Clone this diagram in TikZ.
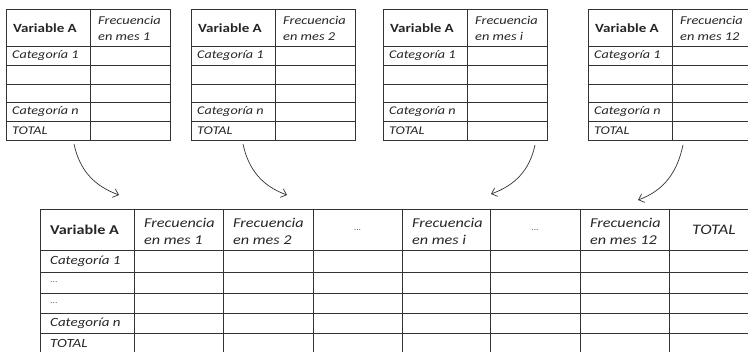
\documentclass[tikz,border=0pt]{standalone}
\usepackage{fontspec}
\setmainfont{Carlito}[FakeStretch=1.2]
\usetikzlibrary{positioning, arrows.meta}

\tikzset{
  grid/.style={draw=black!80, line width=0.9pt},
  hd/.style={font=\fontsize{12.5}{14}\selectfont\bfseries, text=black!85, inner sep=0pt},
  fq/.style={font=\fontsize{12}{16}\selectfont\itshape, text=black!85, align=left, inner sep=0pt},
  cl/.style={font=\fontsize{11.8}{12}\selectfont\itshape, text=black!85, inner sep=0pt},
  bigcl/.style={font=\fontsize{12.5}{13}\selectfont\itshape, text=black!85, inner sep=0pt},
  dots/.style={font=\fontsize{8}{10}\selectfont, text=black!70, inner sep=0pt},
  flow/.style={draw=black!80, line width=0.7pt, -{Straight Barb[length=5pt, width=9pt]}}
}

\begin{document}
\begin{tikzpicture}[x=1pt, y=-1pt]
\useasboundingbox (0,0) rectangle (748,352);
\clip (0,0) rectangle (748,352);

% the four monthly tables
\foreach \x/\m/\n in {6/1/a, 191/2/b, 383/i/c, 588/12/d} {
  \draw[grid] (\x,9) rectangle ++(164,131);
  \draw[grid] (\x+84,9) -- ++(0,131);
  \foreach \y in {46,65,84,102,121}
    \draw[grid] (\x,\y) -- ++(164,0);
  \node[hd, anchor=west] (var\n) at (\x+7,28) {Variable A};
  \node[fq, anchor=west] (frec\n) at (\x+92,28) {Frecuencia\\en mes \m};
  \node[cl, anchor=west] (cat\n) at (\x+6,55.5) {Categoría 1};
  \node[cl, anchor=west] (catn\n) at (\x+6,111.5) {Categoría n};
  \node[cl, anchor=west] (tot\n) at (\x+6,130.5) {TOTAL};
}

% the joined table
\draw[grid] (40,209) rectangle (760,356);
\foreach \x in {134,223,313,402,490,580,669}
  \draw[grid] (\x,209) -- (\x,356);
\foreach \y in {250,272,293,313,333}
  \draw[grid] (40,\y) -- (760,\y);

\node[hd, anchor=west, font=\fontsize{13.5}{14}\selectfont\bfseries] (varall) at (50,230) {Variable A};
\node[fq, anchor=west, font=\fontsize{13.5}{17}\selectfont\itshape] (fall1) at (144,231) {Frecuencia\\en mes 1};
\node[fq, anchor=west, font=\fontsize{13.5}{17}\selectfont\itshape] (fall2) at (233,231) {Frecuencia\\en mes 2};
\node[dots] (hdots1) at (357.5,230) {...};
\node[fq, anchor=west, font=\fontsize{13.5}{17}\selectfont\itshape] (falli) at (412,231) {Frecuencia\\en mes i};
\node[dots] (hdots2) at (535,230) {...};
\node[fq, anchor=west, font=\fontsize{13.5}{17}\selectfont\itshape] (fall12) at (590,231) {Frecuencia\\en mes 12};
\node[bigcl, font=\fontsize{14.5}{15}\selectfont\itshape] (totall) at (714,230) {TOTAL};

\node[bigcl, anchor=west] (catall) at (50,261) {Categoría 1};
\node[dots, anchor=west] (rdots1) at (50,282) {...};
\node[dots, anchor=west] (rdots2) at (50,303) {...};
\node[bigcl, anchor=west] (catnall) at (50,323) {Categoría n};
\node[bigcl, anchor=west] (totrow) at (50,343) {TOTAL};

% arrows from the monthly tables
\coordinate (s1) at (74,144);
\coordinate (e1) at (119,195);
\coordinate (s2) at (243,144);
\coordinate (e2) at (287,195);
\coordinate (s3) at (535,145);
\coordinate (e3) at (491,194);
\coordinate (s4) at (683,145);
\coordinate (e4) at (638,200);
\draw[flow] (s1) to[out=-78, in=160] (e1);
\draw[flow] (s2) to[out=-78, in=160] (e2);
\draw[flow] (s3) to[out=-102, in=20] (e3);
\draw[flow] (s4) to[out=-102, in=20] (e4);
\end{tikzpicture}
\end{document}
